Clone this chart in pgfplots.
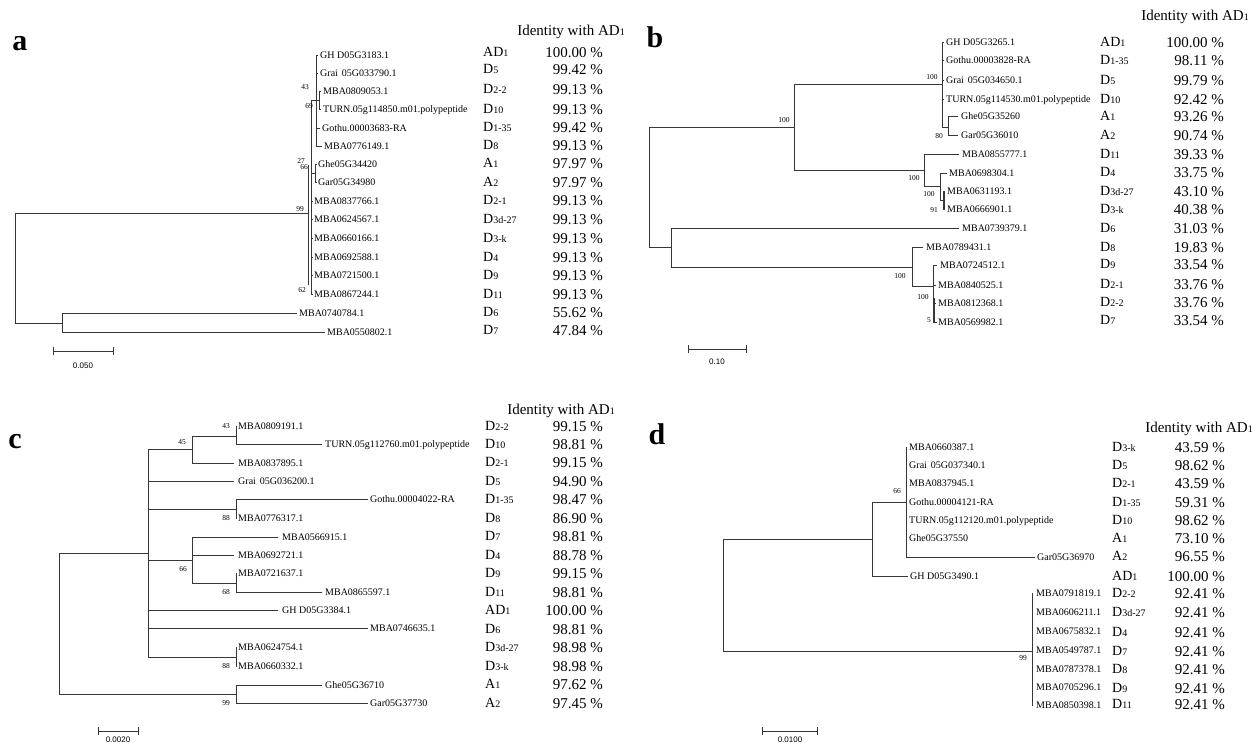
\documentclass[border=0pt]{standalone}
\usepackage{pgfplots}
\pgfplotsset{compat=1.18}
\usepackage{fontspec}
\setmainfont{Liberation Serif}
\newfontfamily\sansf{Liberation Sans}
\definecolor{treecol}{RGB}{55,55,55}
\tikzset{
 tree/.style={color=treecol, line width=0.9pt},
 lab/.style={anchor=west, inner sep=0pt, font=\fontsize{10}{10}\selectfont, text height=6.6pt, text depth=0pt},
 bs/.style={inner sep=0pt, font=\fontsize{7.5}{7.5}\selectfont, text height=5pt, text depth=0pt},
 dlab/.style={anchor=west, inner sep=0pt, font=\fontsize{14}{14}\selectfont, text height=9.3pt, text depth=0pt},
 val/.style={anchor=east, inner sep=0pt, font=\fontsize{15}{15}\selectfont, text height=10pt, text depth=0pt},
 hdr/.style={inner sep=0pt, font=\fontsize{15}{15}\selectfont, text height=10pt, text depth=0pt},
 pl/.style={inner sep=0pt, font=\fontsize{30}{30}\selectfont\bfseries},
 sc/.style={inner sep=0pt, font=\sansf\fontsize{8}{8}\selectfont},
}
\newcommand{\D}[2]{#1\raisebox{-0.3pt}{\fontsize{10}{10}\selectfont #2}}
\newcommand{\idrow}[6]{\node[dlab] at (axis cs:#1,#3) {\D{#4}{#5}}; \node[val] at (axis cs:#2,#3) {#6 \%};}
\begin{document}
\begin{tikzpicture}
\begin{axis}[at={(0,0)}, anchor=south west, scale only axis, width=1255pt, height=745pt,
  xmin=0, xmax=1255, ymin=0, ymax=745, y dir=reverse, hide axis, clip=false, unbounded coords=jump]
% ---------------- panel a ----------------
\addplot[tree] coordinates {
(308,213)(15,213)(15,323)(62,323) (nan,nan)
(297,313)(62,313)(62,332)(325,332) (nan,nan)
(308,165)(308,285) (nan,nan)
(311,100)(311,294) (nan,nan)
(311,100)(316,100) (nan,nan)
(318,55)(316,55)(316,146)(322,146) (nan,nan)
(316,73)(318,73) (nan,nan)
(316,100)(319,100) (nan,nan)
(321,91)(319,91)(319,109)(321,109) (nan,nan)
(316,128)(320,128) (nan,nan)
(311,173)(315,173) (nan,nan)
(317,164)(315,164)(315,182)(317,182) (nan,nan)
(311,201)(313,201) (nan,nan)
(311,219)(313,219) (nan,nan)
(311,238)(313,238) (nan,nan)
(311,257)(313,257) (nan,nan)
(311,275)(313,275) (nan,nan)
(311,294)(313,294)
};
\addplot[tree] coordinates {(53,351)(113,351) (nan,nan) (53,347)(53,355) (nan,nan) (113,347)(113,355)};
\node[sc] at (axis cs:83,366) {0.050};
\node[pl] at (axis cs:20,44) {a};
\node[lab] at (axis cs:320,55) {GH D05G3183.1};
\node[lab] at (axis cs:320,73) {Grai\hspace{4pt}05G033790.1};
\node[lab] at (axis cs:323,91) {MBA0809053.1};
\node[lab] at (axis cs:323,109) {TURN.05g114850.m01.polypeptide};
\node[lab] at (axis cs:322,128) {Gothu.00003683-RA};
\node[lab] at (axis cs:324,146) {MBA0776149.1};
\node[lab] at (axis cs:318,164) {Ghe05G34420};
\node[lab] at (axis cs:318,182) {Gar05G34980};
\node[lab] at (axis cs:314,201) {MBA0837766.1};
\node[lab] at (axis cs:314,219) {MBA0624567.1};
\node[lab] at (axis cs:314,238) {MBA0660166.1};
\node[lab] at (axis cs:314,257) {MBA0692588.1};
\node[lab] at (axis cs:314,275) {MBA0721500.1};
\node[lab] at (axis cs:314,294) {MBA0867244.1};
\node[lab] at (axis cs:299,313) {MBA0740784.1};
\node[lab] at (axis cs:327,332) {MBA0550802.1};
\node[bs] at (axis cs:305,87) {43};
\node[bs] at (axis cs:309,106) {69};
\node[bs] at (axis cs:301,161) {27};
\node[bs] at (axis cs:304,167) {66};
\node[bs] at (axis cs:300,209) {99};
\node[bs] at (axis cs:302,290) {62};
\node[hdr] at (axis cs:571,30) {Identity with \D{AD}{1}};
\idrow{483}{603}{52}{AD}{1}{100.00}
\idrow{483}{603}{69}{D}{5}{99.42}
\idrow{483}{603}{89}{D}{2-2}{99.13}
\idrow{483}{603}{109}{D}{10}{99.13}
\idrow{483}{603}{127}{D}{1-35}{99.42}
\idrow{483}{603}{145}{D}{8}{99.13}
\idrow{483}{603}{163}{A}{1}{97.97}
\idrow{483}{603}{182}{A}{2}{97.97}
\idrow{483}{603}{200}{D}{2-1}{99.13}
\idrow{483}{603}{219}{D}{3d-27}{99.13}
\idrow{483}{603}{238}{D}{3-k}{99.13}
\idrow{483}{603}{257}{D}{4}{99.13}
\idrow{483}{603}{275}{D}{9}{99.13}
\idrow{483}{603}{294}{D}{11}{99.13}
\idrow{483}{603}{312}{D}{6}{55.62}
\idrow{483}{603}{330}{D}{7}{47.84}
% ---------------- panel b ----------------
\addplot[tree] coordinates {
(794,127)(649,127)(649,247)(671,247) (nan,nan)
(942,84)(794,84)(794,170)(924,170) (nan,nan)
(944,42)(942,42)(942,127)(948,127) (nan,nan)
(942,60)(944,60) (nan,nan)
(942,80)(944,80) (nan,nan)
(942,99)(944,99) (nan,nan)
(958,116)(948,116)(948,135)(958,135) (nan,nan)
(959,154)(924,154)(924,186)(940,186) (nan,nan)
(947,173)(940,173)(940,200)(943,200) (nan,nan)
(945,191)(943,191)(943,209)(945,209) (nan,nan)
(944.5,191)(944.5,209) (nan,nan)
(959,228)(671,228)(671,267)(912,267) (nan,nan)
(923,247)(912,247)(912,286)(933,286) (nan,nan)
(937,265)(933,265)(933,322)(937,322) (nan,nan)
(933,285)(936,285) (nan,nan)
(933,303)(936,303) (nan,nan)
(934.5,298)(934.5,322)
};
\addplot[tree] coordinates {(688,349)(746,349) (nan,nan) (688,345)(688,353) (nan,nan) (746,345)(746,353)};
\node[sc] at (axis cs:717,362) {0.10};
\node[pl] at (axis cs:655,37) {b};
\node[lab] at (axis cs:946,42) {GH D05G3265.1};
\node[lab] at (axis cs:946,60) {Gothu.00003828-RA};
\node[lab] at (axis cs:946,80) {Grai\hspace{4pt}05G034650.1};
\node[lab] at (axis cs:946,99) {TURN.05g114530.m01.polypeptide};
\node[lab] at (axis cs:961,116) {Ghe05G35260};
\node[lab] at (axis cs:961,135) {Gar05G36010};
\node[lab] at (axis cs:962,154) {MBA0855777.1};
\node[lab] at (axis cs:949,173) {MBA0698304.1};
\node[lab] at (axis cs:947,191) {MBA0631193.1};
\node[lab] at (axis cs:947,209) {MBA0666901.1};
\node[lab] at (axis cs:962,228) {MBA0739379.1};
\node[lab] at (axis cs:926,247) {MBA0789431.1};
\node[lab] at (axis cs:940,265) {MBA0724512.1};
\node[lab] at (axis cs:938,285) {MBA0840525.1};
\node[lab] at (axis cs:938,303) {MBA0812368.1};
\node[lab] at (axis cs:938,322) {MBA0569982.1};
\node[bs] at (axis cs:784,120) {100};
\node[bs] at (axis cs:932,77) {100};
\node[bs] at (axis cs:939,136) {80};
\node[bs] at (axis cs:914,178) {100};
\node[bs] at (axis cs:929,194) {100};
\node[bs] at (axis cs:934,210) {91};
\node[bs] at (axis cs:900,276) {100};
\node[bs] at (axis cs:923,297) {100};
\node[bs] at (axis cs:929,320) {5};
\node[hdr] at (axis cs:1195,15) {Identity with \D{AD}{1}};
\idrow{1100}{1224}{42}{AD}{1}{100.00}
\idrow{1100}{1224}{60}{D}{1-35}{98.11}
\idrow{1100}{1224}{80}{D}{5}{99.79}
\idrow{1100}{1224}{99}{D}{10}{92.42}
\idrow{1100}{1224}{116}{A}{1}{93.26}
\idrow{1100}{1224}{135}{A}{2}{90.74}
\idrow{1100}{1224}{154}{D}{11}{39.33}
\idrow{1100}{1224}{172}{D}{4}{33.75}
\idrow{1100}{1224}{191}{D}{3d-27}{43.10}
\idrow{1100}{1224}{209}{D}{3-k}{40.38}
\idrow{1100}{1224}{228}{D}{6}{31.03}
\idrow{1100}{1224}{247}{D}{8}{19.83}
\idrow{1100}{1224}{264}{D}{9}{33.54}
\idrow{1100}{1224}{284}{D}{2-1}{33.76}
\idrow{1100}{1224}{302}{D}{2-2}{33.76}
\idrow{1100}{1224}{320}{D}{7}{33.54}
% ---------------- panel c ----------------
\addplot[tree] coordinates {
(148,553)(59,553)(59,694)(236,694) (nan,nan)
(322,685)(236,685)(236,703)(368,703) (nan,nan)
(148,449)(148,657) (nan,nan)
(148,449)(192,449) (nan,nan)
(236,436)(192,436)(192,463)(234,463) (nan,nan)
(237,426)(236,426)(236,444)(322,444) (nan,nan)
(148,481)(234,481) (nan,nan)
(148,509)(236,509) (nan,nan)
(368,499)(236,499)(236,518)(237,518) (nan,nan)
(148,560)(192,560) (nan,nan)
(278,537)(192,537)(192,583)(236,583) (nan,nan)
(192,555)(234,555) (nan,nan)
(237,573)(236,573)(236,592)(322,592) (nan,nan)
(148,610)(278,610) (nan,nan)
(148,628)(368,628) (nan,nan)
(148,657)(236,657) (nan,nan)
(237,647)(236,647)(236,666)(237,666)
};
\addplot[tree] coordinates {(98,731)(138,731) (nan,nan) (98,727)(98,735) (nan,nan) (138,727)(138,735)};
\node[sc] at (axis cs:118,740) {0.0020};
\node[pl] at (axis cs:15,442) {c};
\node[lab] at (axis cs:238,426) {MBA0809191.1};
\node[lab] at (axis cs:325,444) {TURN.05g112760.m01.polypeptide};
\node[lab] at (axis cs:238,463) {MBA0837895.1};
\node[lab] at (axis cs:238,481) {Grai\hspace{4pt}05G036200.1};
\node[lab] at (axis cs:370,499) {Gothu.00004022-RA};
\node[lab] at (axis cs:238,518) {MBA0776317.1};
\node[lab] at (axis cs:282,537) {MBA0566915.1};
\node[lab] at (axis cs:238,555) {MBA0692721.1};
\node[lab] at (axis cs:238,573) {MBA0721637.1};
\node[lab] at (axis cs:325,592) {MBA0865597.1};
\node[lab] at (axis cs:282,610) {GH D05G3384.1};
\node[lab] at (axis cs:370,628) {MBA0746635.1};
\node[lab] at (axis cs:238,647) {MBA0624754.1};
\node[lab] at (axis cs:238,666) {MBA0660332.1};
\node[lab] at (axis cs:325,685) {Ghe05G36710};
\node[lab] at (axis cs:370,703) {Gar05G37730};
\node[bs] at (axis cs:226,426) {43};
\node[bs] at (axis cs:182,442) {45};
\node[bs] at (axis cs:226,518) {88};
\node[bs] at (axis cs:183,569) {66};
\node[bs] at (axis cs:226,592) {68};
\node[bs] at (axis cs:226,666) {88};
\node[bs] at (axis cs:226,703) {99};
\node[hdr] at (axis cs:561,409) {Identity with \D{AD}{1}};
\idrow{485}{603}{426}{D}{2-2}{99.15}
\idrow{485}{603}{444}{D}{10}{98.81}
\idrow{485}{603}{462}{D}{2-1}{99.15}
\idrow{485}{603}{481}{D}{5}{94.90}
\idrow{485}{603}{499}{D}{1-35}{98.47}
\idrow{485}{603}{518}{D}{8}{86.90}
\idrow{485}{603}{536}{D}{7}{98.81}
\idrow{485}{603}{555}{D}{4}{88.78}
\idrow{485}{603}{573}{D}{9}{99.15}
\idrow{485}{603}{592}{D}{11}{98.81}
\idrow{485}{603}{610}{AD}{1}{100.00}
\idrow{485}{603}{629}{D}{6}{98.81}
\idrow{485}{603}{647}{D}{3d-27}{98.98}
\idrow{485}{603}{666}{D}{3-k}{98.98}
\idrow{485}{603}{684}{A}{1}{97.62}
\idrow{485}{603}{703}{A}{2}{97.45}
% ---------------- panel d ----------------
\addplot[tree] coordinates {
(872,539)(723,539)(723,651)(1032,651) (nan,nan)
(906,502)(872,502)(872,576)(908,576) (nan,nan)
(907,447)(906,447)(906,557)(1035,557) (nan,nan)
(1033,593)(1032,593)(1032,705)(1033,705)
};
\addplot[tree] coordinates {(762,731)(817,731) (nan,nan) (762,727)(762,735) (nan,nan) (817,727)(817,735)};
\node[sc] at (axis cs:790,740) {0.0100};
\node[pl] at (axis cs:657,434) {d};
\node[lab] at (axis cs:909,447) {MBA0660387.1};
\node[lab] at (axis cs:909,465) {Grai\hspace{4pt}05G037340.1};
\node[lab] at (axis cs:909,483) {MBA0837945.1};
\node[lab] at (axis cs:909,502) {Gothu.00004121-RA};
\node[lab] at (axis cs:909,520) {TURN.05g112120.m01.polypeptide};
\node[lab] at (axis cs:909,538) {Ghe05G37550};
\node[lab] at (axis cs:1037,557) {Gar05G36970};
\node[lab] at (axis cs:910,576) {GH D05G3490.1};
\node[lab] at (axis cs:1036,593) {MBA0791819.1};
\node[lab] at (axis cs:1036,612) {MBA0606211.1};
\node[lab] at (axis cs:1036,631) {MBA0675832.1};
\node[lab] at (axis cs:1036,650) {MBA0549787.1};
\node[lab] at (axis cs:1036,669) {MBA0787378.1};
\node[lab] at (axis cs:1036,687) {MBA0705296.1};
\node[lab] at (axis cs:1036,705) {MBA0850398.1};
\node[bs] at (axis cs:897,491) {66};
\node[bs] at (axis cs:1023,658) {99};
\node[hdr] at (axis cs:1199,427) {Identity with \D{AD}{1}};
\idrow{1112}{1225}{447}{D}{3-k}{43.59}
\idrow{1112}{1225}{465}{D}{5}{98.62}
\idrow{1112}{1225}{483}{D}{2-1}{43.59}
\idrow{1112}{1225}{502}{D}{1-35}{59.31}
\idrow{1112}{1225}{520}{D}{10}{98.62}
\idrow{1112}{1225}{538}{A}{1}{73.10}
\idrow{1112}{1225}{556}{A}{2}{96.55}
\idrow{1112}{1225}{576}{AD}{1}{100.00}
\idrow{1112}{1225}{593}{D}{2-2}{92.41}
\idrow{1112}{1225}{612}{D}{3d-27}{92.41}
\idrow{1112}{1225}{632}{D}{4}{92.41}
\idrow{1112}{1225}{651}{D}{7}{92.41}
\idrow{1112}{1225}{669}{D}{8}{92.41}
\idrow{1112}{1225}{688}{D}{9}{92.41}
\idrow{1112}{1225}{704}{D}{11}{92.41}
\end{axis}
\pgfresetboundingbox
\path[use as bounding box] (0,0) rectangle (1255pt,745pt);
\end{tikzpicture}
\end{document}
